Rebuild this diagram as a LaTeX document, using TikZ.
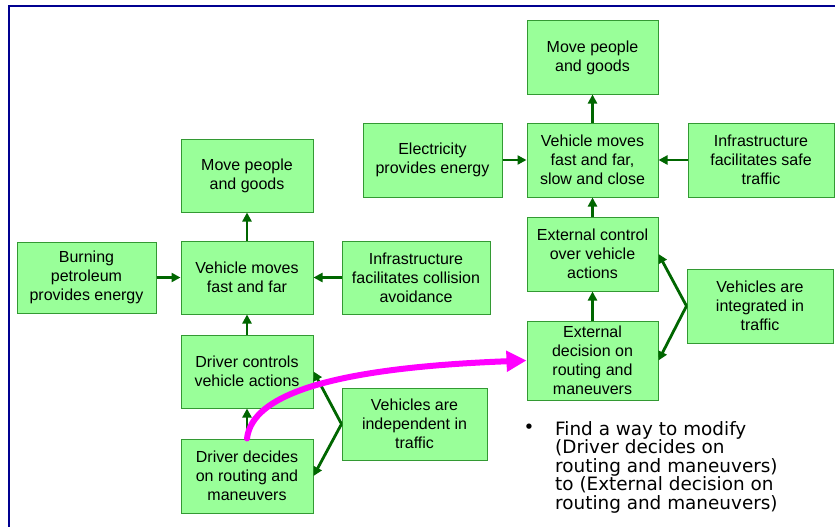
\documentclass[tikz,border=0pt]{standalone}
\usepackage{fontspec}
\setmainfont{Liberation Sans}
\newfontfamily\verd{DejaVu Sans}
\usetikzlibrary{arrows.meta}
\definecolor{boxfill}{HTML}{99FF99}
\definecolor{boxline}{HTML}{339933}
\definecolor{conncol}{HTML}{006600}
\definecolor{framecol}{HTML}{000090}
\definecolor{mag}{HTML}{FF00FF}
\tikzset{
  box/.style={draw=boxline, fill=boxfill, line width=1pt, align=center,
    font=\fontsize{16}{19}\selectfont, inner sep=0pt},
  conn/.style={draw=conncol, line width=2.8pt, -{Triangle[length=9pt,width=9pt]}},
}
\begin{document}
\begin{tikzpicture}[x=1pt,y=1pt]
\useasboundingbox (0,0) rectangle (835,-527);
\draw[framecol, line width=2.2pt] (9,-527) -- (9,-6) -- (835,-6);
% left diagram
\node[box, minimum width=132pt, minimum height=73pt] (moveL) at (247,-175.5) {Move people\\and goods};
\node[box, minimum width=139pt, minimum height=71pt] (burn) at (86.5,-277.5) {Burning\\petroleum\\provides energy};
\node[box, minimum width=132pt, minimum height=73pt] (vehL) at (247,-277.5) {Vehicle moves\\fast and far};
\node[box, minimum width=148pt, minimum height=73pt] (infL) at (416,-277.5) {Infrastructure\\facilitates collision\\avoidance};
\node[box, minimum width=132pt, minimum height=73pt] (drvctl) at (247,-371.5) {Driver controls\\vehicle actions};
\node[box, minimum width=132pt, minimum height=74pt] (drvdec) at (247,-476) {Driver decides\\on routing and\\maneuvers};
\node[box, minimum width=145pt, minimum height=72pt] (indep) at (414.5,-424) {Vehicles are\\independent in\\traffic};
% right diagram
\node[box, minimum width=131pt, minimum height=73pt] (moveR) at (592.5,-57.5) {Move people\\and goods};
\node[box, minimum width=139pt, minimum height=74pt] (elec) at (432.5,-160) {Electricity\\provides energy};
\node[box, minimum width=131pt, minimum height=74pt] (vehR) at (592.5,-160) {Vehicle moves\\fast and far,\\slow and close};
\node[box, minimum width=146pt, minimum height=74pt] (infR) at (761,-160) {Infrastructure\\facilitates safe\\traffic};
\node[box, minimum width=131pt, minimum height=74pt] (extctl) at (592.5,-254) {External control\\over vehicle\\actions};
\node[box, minimum width=131pt, minimum height=79pt] (extdec) at (592.5,-360.5) {External\\decision on\\routing and\\maneuvers};
\node[box, minimum width=146pt, minimum height=74pt] (integ) at (760,-306) {Vehicles are\\integrated in\\traffic};
% connectors left
\draw[conn] (vehL) -- (moveL);
\draw[conn] (burn) -- (vehL);
\draw[conn] (infL) -- (vehL);
\draw[conn] (drvctl) -- (vehL);
\draw[conn] (drvdec) -- (drvctl);
\draw[conn] (indep.west) -- (drvctl.east);
\draw[conn] (indep.west) -- (drvdec.east);
% connectors right
\draw[conn] (vehR) -- (moveR);
\draw[conn] (elec) -- (vehR);
\draw[conn] (infR) -- (vehR);
\draw[conn] (extctl) -- (vehR);
\draw[conn] (extdec) -- (extctl);
\draw[conn] (integ.west) -- (extctl.east);
\draw[conn] (integ.west) -- (extdec.east);
% magenta arrow
\draw[mag, line width=6pt, line cap=round, -{Triangle[length=20pt,width=20pt]}]
  (drvdec.north) .. controls (252,-395) and (330,-368) .. (extdec.west);
% bullet text
\node[font=\verd\fontsize{18.4}{18.5}\selectfont, inner sep=0pt] (bul) at (529,-429) {•};
\node[font=\verd\fontsize{18.4}{18.5}\selectfont, inner sep=0pt, anchor=north west, align=left] (note) at (555,-421)
  {Find a way to modify\\(Driver decides on\\routing and maneuvers)\\to (External decision on\\routing and maneuvers)};
\end{tikzpicture}
\end{document}
